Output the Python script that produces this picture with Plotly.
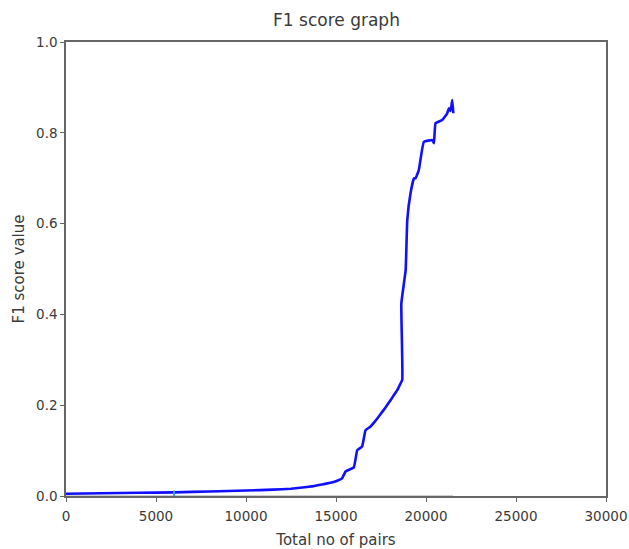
import plotly.graph_objects as go

# F1 score curve
pairs = [0, 2000, 4000, 6000, 8000, 10000, 11500, 12500, 13000, 13800, 14300, 14700, 15100, 15340,
         15530, 15990, 16180, 16450, 16640, 16920, 17200, 17470, 17750, 18030, 18400, 18500,
         18680, 18630, 18870, 18960, 19140, 19330, 19420, 19600, 19880, 20350,
         20440, 20530, 20900, 21180, 21270, 21360, 21460, 21520]
f1 = [0.005, 0.006, 0.007, 0.008, 0.010, 0.012, 0.014, 0.016, 0.018, 0.022, 0.026, 0.029, 0.034, 0.039,
      0.054, 0.063, 0.101, 0.109, 0.145, 0.153, 0.166, 0.180, 0.195, 0.211, 0.233, 0.241,
      0.256, 0.424, 0.498, 0.608, 0.667, 0.700, 0.700, 0.718, 0.780, 0.784,
      0.777, 0.821, 0.828, 0.843, 0.854, 0.848, 0.872, 0.843]

# faint baseline series
base_x = [0, 21500]
base_y = [0.0, 0.0]

x_ticks = [0, 5000, 10000, 15000, 20000, 25000, 30000]
y_ticks = [0.0, 0.2, 0.4, 0.6, 0.8, 1.0]

fig = go.Figure()
fig.add_trace(go.Scatter(x=base_x, y=base_y, mode="lines",
                         line=dict(color="#cfcfcf", width=2), showlegend=False,
                         cliponaxis=False))
fig.add_trace(go.Scatter(x=pairs, y=f1, mode="lines",
                         line=dict(color="#1010ff", width=2.6, shape="spline", smoothing=0.3),
                         showlegend=False))
fig.add_trace(go.Scatter(x=[6000], y=[0.006], mode="markers",
                         marker=dict(color="#3aa0e8", size=4, symbol="line-ns-open",
                                     line=dict(width=2, color="#3aa0e8")),
                         showlegend=False))

axis_common = dict(showline=True, mirror=True, linecolor="#666666", linewidth=1.5,
                   ticks="outside", ticklen=4, tickcolor="#666666", showgrid=False,
                   zeroline=False, automargin=False, ticklabeloverflow="allow",
                   tickfont=dict(family="DejaVu Sans", size=13.5, color="#3a3a3a"))

fig.update_layout(
    width=629, height=549,
    margin=dict(l=66, r=23, t=42, b=53),
    plot_bgcolor="white", paper_bgcolor="white",
    title=dict(text="F1 score graph", x=0.535, xanchor="center", y=0.963, yanchor="middle",
               font=dict(family="DejaVu Sans", size=17, color="#3a3a3a")),
    xaxis=dict(range=[0, 30000], tickvals=x_ticks, ticktext=[str(v) for v in x_ticks],
               ticklabelstandoff=3,
               title=dict(text="Total no of pairs", standoff=16,
                          font=dict(family="DejaVu Sans", size=15, color="#3a3a3a")),
               **axis_common),
    yaxis=dict(range=[0, 1.0], tickvals=y_ticks, ticktext=[f"{v:.1f}" for v in y_ticks],
               title=dict(text="F1 score value", standoff=8,
                          font=dict(family="DejaVu Sans", size=15, color="#3a3a3a")),
               **axis_common),
)

fig.write_html("out.html")
